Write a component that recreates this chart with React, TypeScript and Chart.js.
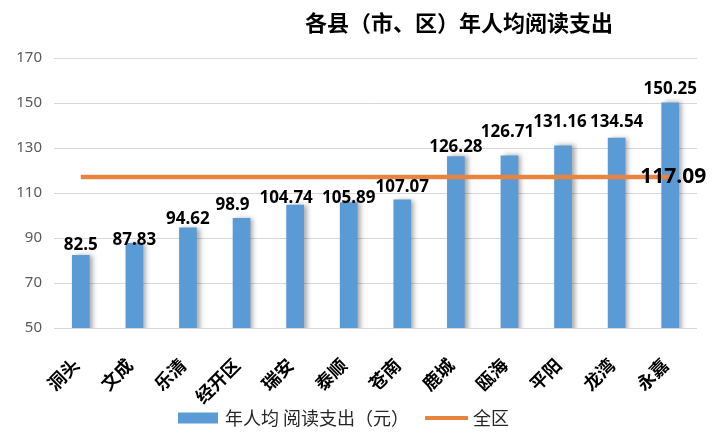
import { useEffect, useRef } from 'react';
import { Chart, registerables } from 'chart.js';

Chart.register(...registerables);

const chartTitle = '各县（市、区）年人均阅读支出';
const categories = ['洞头', '文成', '乐清', '经开区', '瑞安', '泰顺', '苍南', '鹿城', '瓯海', '平阳', '龙湾', '永嘉'];
const perCapitaSpend = [82.5, 87.83, 94.62, 98.9, 104.74, 105.89, 107.07, 126.28, 126.71, 131.16, 134.54, 150.25];
const districtAverage = 117.09;
const averageSeries = categories.map(() => districtAverage);
const barLegend = '年人均 阅读支出（元）';
const lineLegend = '全区';
const yMin = 50;
const yMax = 170;
const yStep = 20;

// label placement (pixels above bar top / horizontal nudge), as in the reference
const labelLift = [10, 3, 8, 13, 7, 4, 12, 9, 23, 23, 16, 13];
const labelShift = [0, 0, 0, -9, -9, 0, 0, 0, -2, -3, 0, 0];

const BLUE = '#5b9bd5';
const ORANGE = '#e9843f';

export default function App() {
  const ref = useRef<HTMLCanvasElement>(null);

  useEffect(() => {
    document.body.style.margin = '0';
    const canvas = ref.current!;

    const shadowPlugin = {
      id: 'barShadow',
      beforeDatasetDraw(chart: any, args: any) {
        if (args.index === 0) {
          const c = chart.ctx;
          c.save();
          c.shadowColor = 'rgba(0,0,0,0.35)';
          c.shadowBlur = 5;
          c.shadowOffsetX = 3;
          c.shadowOffsetY = 0;
        }
      },
      afterDatasetDraw(chart: any, args: any) {
        if (args.index === 0) chart.ctx.restore();
      },
    };

    const decorPlugin = {
      id: 'decor',
      afterDraw(chart: any) {
        const ctx = chart.ctx;
        ctx.save();
        // title
        ctx.fillStyle = '#000';
        ctx.textAlign = 'center';
        ctx.textBaseline = 'middle';
        ctx.font = 'bold 22px "Noto Sans CJK SC"';
        ctx.fillText(chartTitle, 459, 23);

        // bar value labels
        ctx.font = 'bold 17px "Noto Sans"';
        const barMeta = chart.getDatasetMeta(0);
        barMeta.data.forEach((el: any, i: number) => {
          ctx.fillText(String(perCapitaSpend[i]), el.x + labelShift[i], el.y - labelLift[i]);
        });

        // average label at last point
        const lineMeta = chart.getDatasetMeta(1);
        const last = lineMeta.data[lineMeta.data.length - 1];
        ctx.font = 'bold 21px "Noto Sans"';
        ctx.fillText(districtAverage.toFixed(2), last.x + 3, last.y);

        // legend
        const ly = 418;
        let x = 178;
        ctx.fillStyle = BLUE;
        ctx.fillRect(x, ly - 5.5, 40, 11);
        x += 47;
        ctx.font = '18px "Noto Sans CJK SC"';
        ctx.textAlign = 'left';
        ctx.fillStyle = '#262626';
        ctx.fillText(barLegend, x, ly);
        x += ctx.measureText(barLegend).width + 16;
        ctx.strokeStyle = ORANGE;
        ctx.lineWidth = 4;
        ctx.beginPath();
        ctx.moveTo(x, ly);
        ctx.lineTo(x + 43, ly);
        ctx.stroke();
        x += 48;
        ctx.fillText(lineLegend, x, ly);
        ctx.restore();
      },
    };

    const chart = new Chart(canvas, {
      type: 'bar',
      data: {
        labels: categories,
        datasets: [
          {
            type: 'bar',
            label: barLegend,
            data: perCapitaSpend,
            backgroundColor: BLUE,
            barPercentage: 0.33,
            categoryPercentage: 1,
            order: 1,
          },
          {
            type: 'line',
            label: lineLegend,
            data: averageSeries,
            borderColor: ORANGE,
            backgroundColor: ORANGE,
            borderWidth: 4.5,
            pointRadius: 0,
            fill: false,
            order: 0,
          },
        ],
      } as any,
      options: {
        responsive: false,
        animation: false,
        layout: { padding: { left: 16, right: 21, top: 58, bottom: 0 } },
        plugins: {
          legend: { display: false },
          tooltip: { enabled: false },
          title: { display: false },
        },
        scales: {
          x: {
            grid: { display: false, drawTicks: false },
            border: { display: false },
            ticks: {
              autoSkip: false,
              maxRotation: 45,
              minRotation: 45,
              padding: 26,
              labelOffset: -5,
              color: '#000',
              font: { family: '"Noto Sans CJK SC"', size: 18, weight: 'bold' },
            },
            afterFit: (s: any) => {
              s.height = 115;
            },
          },
          y: {
            min: yMin,
            max: yMax,
            ticks: {
              stepSize: yStep,
              padding: 12,
              color: '#595959',
              font: { family: '"Noto Sans"', size: 15 },
            },
            grid: { color: '#d9d9d9', drawTicks: false },
            border: { display: false },
            afterFit: (s: any) => {
              s.width = 38;
            },
          },
        },
      } as any,
      plugins: [shadowPlugin, decorPlugin],
    });

    return () => chart.destroy();
  }, []);

  return <canvas ref={ref} width={718} height={443} style={{ display: 'block' }} />;
}
